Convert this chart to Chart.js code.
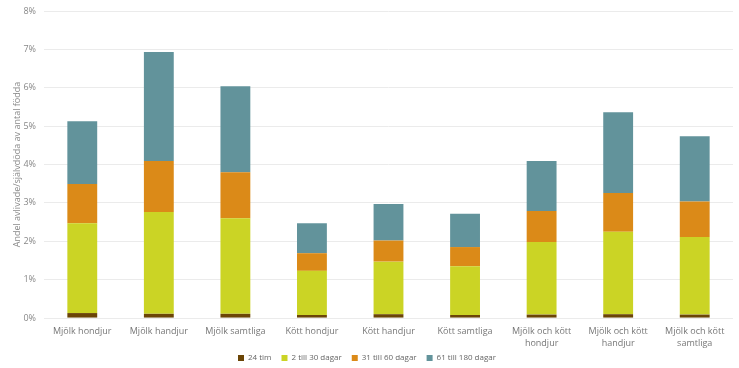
<!DOCTYPE html>
<html>
<head>
<meta charset="utf-8">
<script src="https://cdn.jsdelivr.net/npm/chart.js@4"></script>
<style>
  body { margin: 0; background: #fff; }
  #wrap { width: 739px; height: 368px; }
</style>
</head>
<body>
<div id="wrap"><canvas id="grafico"></canvas></div>
<script>
// kategorier och värden (andel i procent)
const kategorier = [
    'Mjölk hondjur', 'Mjölk handjur', 'Mjölk samtliga',
    'Kött hondjur', 'Kött handjur', 'Kött samtliga',
    ['Mjölk och kött', 'hondjur'], ['Mjölk och kött', 'handjur'], ['Mjölk och kött', 'samtliga']
];
const tim24 = [0.13, 0.11, 0.11, 0.08, 0.10, 0.08, 0.09, 0.10, 0.09];
const dagar2till30 = [2.34, 2.65, 2.49, 1.15, 1.37, 1.27, 1.89, 2.15, 2.02];
const dagar31till60 = [1.02, 1.33, 1.20, 0.46, 0.55, 0.50, 0.81, 1.01, 0.93];
const dagar61till180 = [1.64, 2.84, 2.24, 0.78, 0.95, 0.87, 1.30, 2.10, 1.70];
const yTicks = [0, 1, 2, 3, 4, 5, 6, 7, 8];

const ctx = document.getElementById('grafico');

function serie(namn, data, farg) {
    return {
        label: namn,
        data: data,
        backgroundColor: farg,
        borderWidth: 0,
        barPercentage: 0.39,
        categoryPercentage: 1
    };
}

// flyttar upp legenden lite närmare etiketterna
const legendUpp = {
    id: 'legendUpp',
    afterLayout(chart) {
        if (chart.legend) {
            chart.legend.top -= 12;
            chart.legend.bottom -= 12;
        }
    }
};

new Chart(ctx, {
    type: 'bar',
    data: {
        labels: kategorier,
        datasets: [
            serie('24 tim', tim24, '#6b4506'),
            serie('2 till 30 dagar', dagar2till30, '#cbd425'),
            serie('31 till 60 dagar', dagar31till60, '#db8a18'),
            serie('61 till 180 dagar', dagar61till180, '#62939b')
        ]
    },
    plugins: [legendUpp],
    options: {
        responsive: true,
        maintainAspectRatio: false,
        animation: false,
        layout: { padding: { top: 11, right: 6, left: 1, bottom: -16 } },
        plugins: {
            legend: {
                position: 'bottom',
                labels: {
                    boxWidth: 6,
                    boxHeight: 6,
                    padding: 10,
                    color: '#666',
                    font: { family: 'Open Sans', size: 8 }
                }
            },
            tooltip: { enabled: false }
        },
        scales: {
            x: {
                stacked: true,
                grid: { display: false, drawTicks: false },
                border: { display: false },
                ticks: {
                    padding: 7,
                    color: '#777',
                    font: { family: 'Open Sans', size: 9, lineHeight: 1.33 },
                    maxRotation: 0,
                    autoSkip: false
                }
            },
            y: {
                stacked: true,
                min: 0,
                max: 8,
                afterBuildTicks: axis => { axis.ticks = yTicks.map(v => ({ value: v })); },
                afterFit: axis => {
                    axis.width = 43;
                    axis.paddingTop = 0;
                },
                grid: { color: '#ebebeb', drawTicks: false },
                border: { display: false },
                ticks: {
                    padding: 8,
                    color: '#888',
                    font: { family: 'Open Sans', size: 9 },
                    callback: v => v + '%'
                },
                title: {
                    display: true,
                    text: 'Andel avlivade/självdöda av antal födda',
                    color: '#888',
                    font: { family: 'Open Sans', size: 9 },
                    padding: { top: 11, bottom: 0 }
                }
            }
        }
    }
});
</script>
</body>
</html>
